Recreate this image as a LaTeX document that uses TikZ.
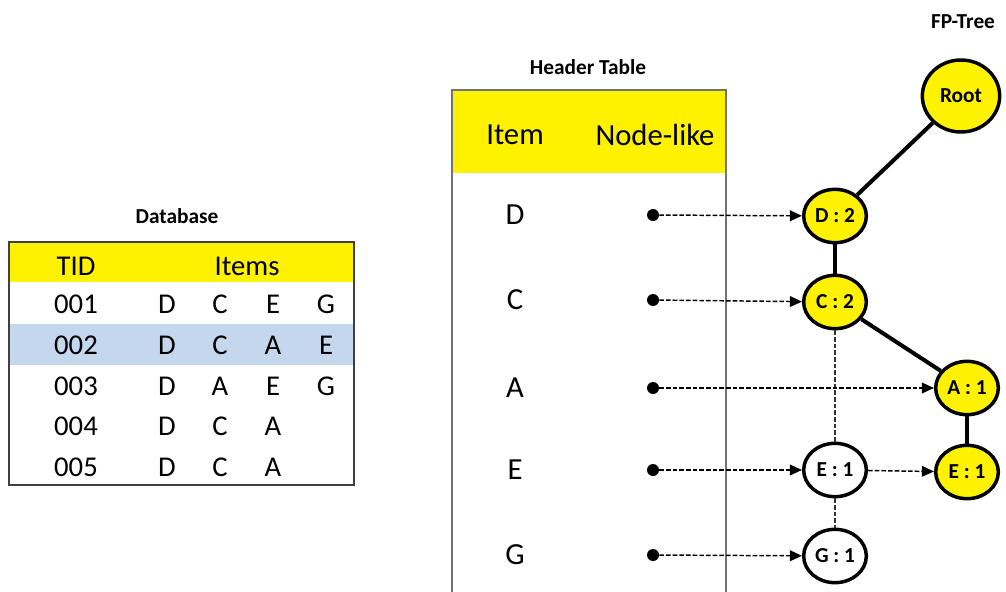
\documentclass[tikz,border=0pt]{standalone}
\usepackage{fontspec}
\setmainfont{Carlito}
\usetikzlibrary{arrows.meta, shapes.geometric}

\definecolor{rowblue}{RGB}{197,215,237}

\begin{document}
\begin{tikzpicture}[
  x=0.75pt, y=-0.75pt, % work in pixel units, y pointing down
  title/.style={font=\fontsize{16}{18}\selectfont\bfseries, inner sep=0pt},
  cell/.style={font=\fontsize{21.5}{25}\selectfont, inner sep=0pt},
  hcell/.style={font=\fontsize{23}{27}\selectfont, inner sep=0pt},
  tnode/.style={ellipse, draw, line width=2.6pt, minimum width=47pt, minimum height=40pt, inner sep=0pt, font=\fontsize{16}{18}\selectfont\bfseries},
  hit/.style={tnode, fill=yellow},
  link/.style={line width=3pt},
  ptr/.style={line width=1.1pt, dash pattern=on 3.5pt off 1.5pt, -{Triangle[length=9pt,width=8pt]}},
  chain/.style={line width=1.1pt, dash pattern=on 3.5pt off 1.5pt, black!80},
  dot/.style={circle, fill=black, minimum size=9pt, inner sep=0pt}
]
\useasboundingbox (0,0) rectangle (1006,592);

% Database
\node[title] (dbtitle) at (177,216) {Database};
\fill[yellow] (9,242) rectangle (354,282);
\fill[rowblue] (9,324) rectangle (354,365);
\node[cell] (tid) at (76,266) {TID};
\node[cell] (items) at (247,266) {Items};
\foreach \tid/\items [count=\r] in {001/{D,C,E,G}, 002/{D,C,A,E}, 003/{D,A,E,G}, 004/{D,C,A}, 005/{D,C,A}} {
  \node[cell] (db-\r) at (76,264+\r*40.6) {\tid};
  \foreach \it [count=\c] in \items
    \node[cell] (db-\r-\c) at (114+\c*53,264+\r*40.6) {\it};
}
\draw[line width=1.4pt, black!75] (9,242) rectangle (354,485);

% Header table
\node[title] (httitle) at (588,67) {Header Table};
\fill[yellow] (452,90) rectangle (726,173);
\node[hcell] (hitem) at (515,135) {Item};
\node[hcell] (hlink) at (655,135) {Node-like};
\foreach \it/\y in {D/215, C/300, A/388, E/470, G/555} {
  \node[hcell] (ht-\it) at (515,\y) {\it};
  \node[dot] (dot-\it) at (653,\y) {};
}
\draw[line width=1.4pt, black!55] (452,592) |- (726,90) -- (726,592);

% FP-Tree
\node[title] (fptitle) at (963,22) {FP-Tree};
\node[hit, minimum width=58pt, minimum height=54pt] (root) at (961,96) {Root};
\node[hit] (D2) at (835,216) {D : 2};
\node[hit] (C2) at (835,302) {C : 2};
\node[hit] (A1) at (967,388) {A : 1};
\node[hit] (E1) at (967,472) {E : 1};
\node[tnode, fill=white] (E1w) at (835,470) {E : 1};
\node[tnode, fill=white] (G1w) at (835,556) {G : 1};

% Tree edges
\draw[link] (root) -- (D2);
\draw[link] (D2) -- (C2);
\draw[link] (C2) -- (A1);
\draw[link] (A1) -- (E1);

% Node links
\draw[chain] (C2) -- (E1w);
\draw[chain] (E1w) -- (G1w);
\draw[ptr] (dot-D) -- (D2);
\draw[ptr] (dot-C) -- (C2);
\draw[ptr] (dot-A) -- (A1);
\draw[ptr] (dot-E) -- (E1w);
\draw[ptr] (dot-G) -- (G1w);
\draw[ptr] (E1w) -- (E1);

\end{tikzpicture}
\end{document}
